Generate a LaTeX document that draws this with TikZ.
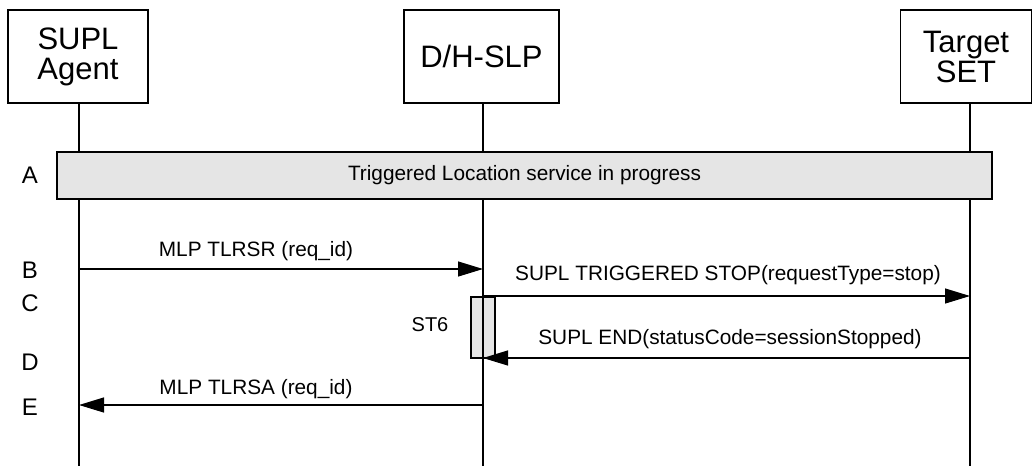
\documentclass[tikz,border=0pt]{standalone}
\usepackage{fontspec}
\setmainfont{Liberation Sans}
\usetikzlibrary{arrows.meta}
\definecolor{CF}{HTML}{E5E5E5}
\tikzset{
	actor/.style = {draw, line width=1.2pt, font=\fontsize{31}{31}\selectfont,
		align=center, inner sep=0pt, minimum height=93pt},
	rowlbl/.style = {font=\fontsize{24}{25}\selectfont, inner sep=0pt},
	msg/.style = {font=\fontsize{20.8}{22}\selectfont, inner sep=0pt},
	life/.style = {line width=1.2pt},
	ar/.style = {-{Triangle[length=25pt, width=15pt]}, line width=1.2pt},
}
\begin{document}
\begin{tikzpicture}[x=1pt, y=-1pt]
		\useasboundingbox (0,0) rectangle (1033,466);
		
		%%═══════════════════════════════════════════════════════════════════
		%% ACTOR BOXES   (all y = 10 … 103)
		%%═══════════════════════════════════════════════════════════════════
		\node[actor, minimum width=140pt] (agent)  at (78,  56.5) {SUPL\\[-1pt]Agent};
		\node[actor, minimum width=155pt] (slp)    at (481.5, 56.5) {D/H-SLP};
		\node[actor, minimum width=131pt] (target) at (966, 56.5) {Target\\[-1pt]SET};
		
		%% lifeline ends
		\coordinate (agentTop)  at (79,  103);
		\coordinate (slpTop)    at (483, 103);
		\coordinate (targetTop) at (970, 103);
		\coordinate (agentBot)  at (79,  466);
		\coordinate (slpBot)    at (483, 466);
		\coordinate (targetBot) at (970, 466);
		
		%% ST6 timer box (below lifeline)
		\node[draw, fill=CF, line width=1.2pt, inner sep=0pt,
		minimum width=24pt, minimum height=61pt] (st6box) at (483, 327.5) {};
		\node[msg, font=\fontsize{20}{21}\selectfont] (st6) at (430, 325) {ST6};
		
		%% lifelines
		\draw[life] (agentTop)  -- (agentBot);
		\draw[life] (slpTop)    -- (slpBot);
		\draw[life] (targetTop) -- (targetBot);
		
		%%═══════════════════════════════════════════════════════════════════
		%% A : SERVICE IN PROGRESS BAR
		%%═══════════════════════════════════════════════════════════════════
		\node[draw, fill=CF, line width=1.2pt, inner sep=0pt,
		minimum width=935pt, minimum height=47pt,
		font=\fontsize{20.8}{22}\selectfont] (prog) at (524.5, 175.5)
		{Triggered Location service in progress};
		
		%% row letters
		\node[rowlbl] (rowA) at (30, 175) {A};
		\node[rowlbl] (rowB) at (30, 270) {B};
		\node[rowlbl] (rowC) at (30, 303) {C};
		\node[rowlbl] (rowD) at (30, 362) {D};
		\node[rowlbl] (rowE) at (30, 407) {E};
		
		%%═══════════════════════════════════════════════════════════════════
		%% MESSAGES
		%%═══════════════════════════════════════════════════════════════════
		\coordinate (bFrom) at (79,  269);  \coordinate (bTo) at (483, 269);
		\coordinate (cFrom) at (483, 296);  \coordinate (cTo) at (970, 296);
		\coordinate (dFrom) at (970, 358);  \coordinate (dTo) at (483, 358);
		\coordinate (eFrom) at (483, 405);  \coordinate (eTo) at (79,  405);
		
		\draw[ar] (bFrom) -- (bTo);
		\node[msg] (bLbl) at (256, 251) {MLP TLRSR (req\_id)};
		
		\draw[ar] (cFrom) -- (cTo);
		\node[msg] (cLbl) at (728, 275) {SUPL TRIGGERED STOP(requestType=stop)};
		
		\draw[ar] (dFrom) -- (dTo);
		\node[msg] (dLbl) at (730, 339) {SUPL END(statusCode=sessionStopped)};
		
		\draw[ar] (eFrom) -- (eTo);
		\node[msg] (eLbl) at (256, 389) {MLP TLRSA (req\_id)};
		
\end{tikzpicture}
\end{document}
